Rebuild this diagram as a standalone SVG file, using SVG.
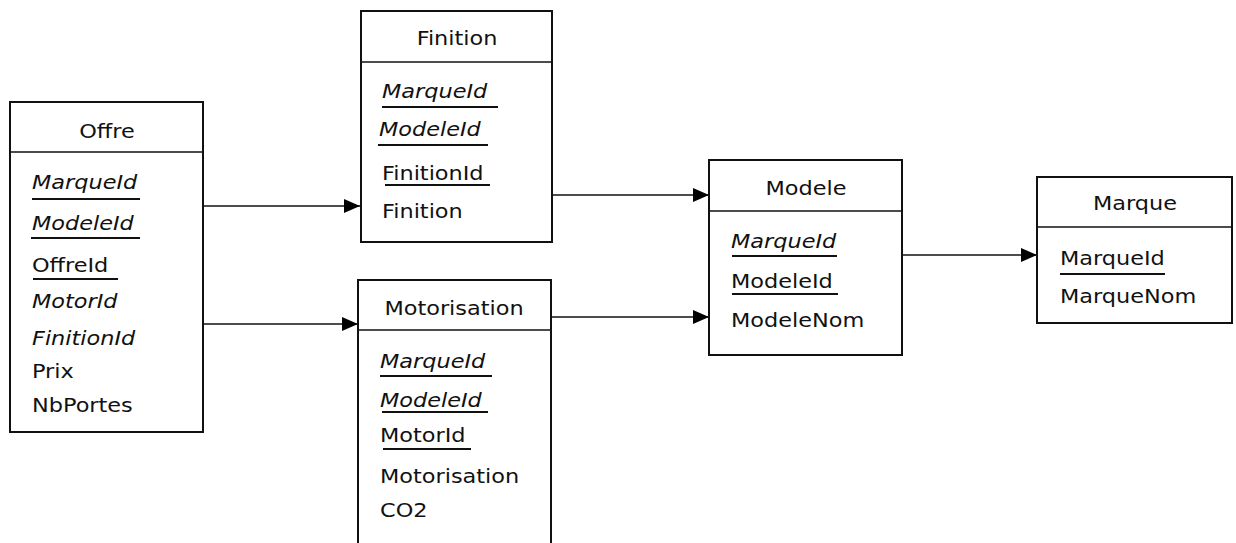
<svg xmlns="http://www.w3.org/2000/svg" width="1236" height="543" viewBox="0 0 1236 543">
<style>
.box{fill:#fff;stroke:#111;stroke-width:2}
.div{stroke:#111;stroke-width:1.6}
.ul{stroke:#111;stroke-width:2.2}
.t{font-family:"DejaVu Sans",Verdana,sans-serif;font-size:20px;fill:#111}
.i{font-style:italic}
.h{text-anchor:middle}
.c{stroke:#111;stroke-width:1.6;fill:none;marker-end:url(#arr)}
</style>
<defs>
<marker id="arr" viewBox="0 0 16 14" refX="16" refY="7" markerWidth="16" markerHeight="14" markerUnits="userSpaceOnUse" orient="auto">
<path d="M0,0 L16,7 L0,14 Z" fill="#000"/>
</marker>
</defs>
<rect width="1236" height="543" fill="#fff"/>
<g id="connectors">
<line class="c" x1="203" y1="206" x2="360" y2="206"/>
<line class="c" x1="203" y1="324" x2="358" y2="324"/>
<line class="c" x1="552" y1="195" x2="709" y2="195"/>
<line class="c" x1="551" y1="317" x2="709" y2="317"/>
<line class="c" x1="902" y1="255" x2="1037" y2="255"/>
</g>
<g id="offre">
<rect class="box" x="10" y="102" width="193" height="330"/>
<line class="div" x1="10" y1="152" x2="203" y2="152"/>
<text class="t h" transform="translate(107,138) scale(1.12,1)">Offre</text>
<text class="t i" transform="translate(32,189) scale(1.12,1)">MarqueId</text>
<line class="ul" x1="32" y1="199" x2="140" y2="199"/>
<text class="t i" transform="translate(32,230) scale(1.12,1)">ModeleId</text>
<line class="ul" x1="31" y1="238" x2="140" y2="238"/>
<text class="t" transform="translate(32,272) scale(1.12,1)">OffreId</text>
<line class="ul" x1="33" y1="279" x2="118" y2="279"/>
<text class="t i" transform="translate(32,308) scale(1.12,1)">MotorId</text>
<text class="t i" transform="translate(32,345) scale(1.12,1)">FinitionId</text>
<text class="t" transform="translate(32,378) scale(1.12,1)">Prix</text>
<text class="t" transform="translate(32,412) scale(1.12,1)">NbPortes</text>
</g>
<g id="finition">
<rect class="box" x="361" y="11" width="191" height="231"/>
<line class="div" x1="361" y1="62" x2="552" y2="62"/>
<text class="t h" transform="translate(457,45) scale(1.12,1)">Finition</text>
<text class="t i" transform="translate(382,98) scale(1.12,1)">MarqueId</text>
<line class="ul" x1="382" y1="107" x2="498" y2="107"/>
<text class="t i" transform="translate(379,136) scale(1.12,1)">ModeleId</text>
<line class="ul" x1="378" y1="145" x2="488" y2="145"/>
<text class="t" transform="translate(382,180) scale(1.12,1)">FinitionId</text>
<line class="ul" x1="385" y1="185" x2="490" y2="185"/>
<text class="t" transform="translate(382,218) scale(1.12,1)">Finition</text>
</g>
<g id="motorisation">
<rect class="box" x="358" y="280" width="193" height="290"/>
<line class="div" x1="358" y1="330" x2="551" y2="330"/>
<text class="t h" transform="translate(454,315) scale(1.12,1)">Motorisation</text>
<text class="t i" transform="translate(380,368) scale(1.12,1)">MarqueId</text>
<line class="ul" x1="380" y1="376" x2="492" y2="376"/>
<text class="t i" transform="translate(380,407) scale(1.12,1)">ModeleId</text>
<line class="ul" x1="382" y1="412" x2="488" y2="412"/>
<text class="t" transform="translate(380,442) scale(1.12,1)">MotorId</text>
<line class="ul" x1="383" y1="449" x2="471" y2="449"/>
<text class="t" transform="translate(380,483) scale(1.12,1)">Motorisation</text>
<text class="t" transform="translate(380,517) scale(1.12,1)">CO2</text>
</g>
<g id="modele">
<rect class="box" x="709" y="160" width="193" height="195"/>
<line class="div" x1="709" y1="211" x2="902" y2="211"/>
<text class="t h" transform="translate(806,195) scale(1.12,1)">Modele</text>
<text class="t i" transform="translate(731,248) scale(1.12,1)">MarqueId</text>
<line class="ul" x1="732" y1="256" x2="837" y2="256"/>
<text class="t" transform="translate(731,288) scale(1.12,1)">ModeleId</text>
<line class="ul" x1="732" y1="294" x2="838" y2="294"/>
<text class="t" transform="translate(731,327) scale(1.12,1)">ModeleNom</text>
</g>
<g id="marque">
<rect class="box" x="1037" y="177" width="195" height="146"/>
<line class="div" x1="1037" y1="227" x2="1232" y2="227"/>
<text class="t h" transform="translate(1135,210) scale(1.12,1)">Marque</text>
<text class="t" transform="translate(1060,265) scale(1.12,1)">MarqueId</text>
<line class="ul" x1="1060" y1="274" x2="1165" y2="274"/>
<text class="t" transform="translate(1060,303) scale(1.12,1)">MarqueNom</text>
</g>
</svg>
